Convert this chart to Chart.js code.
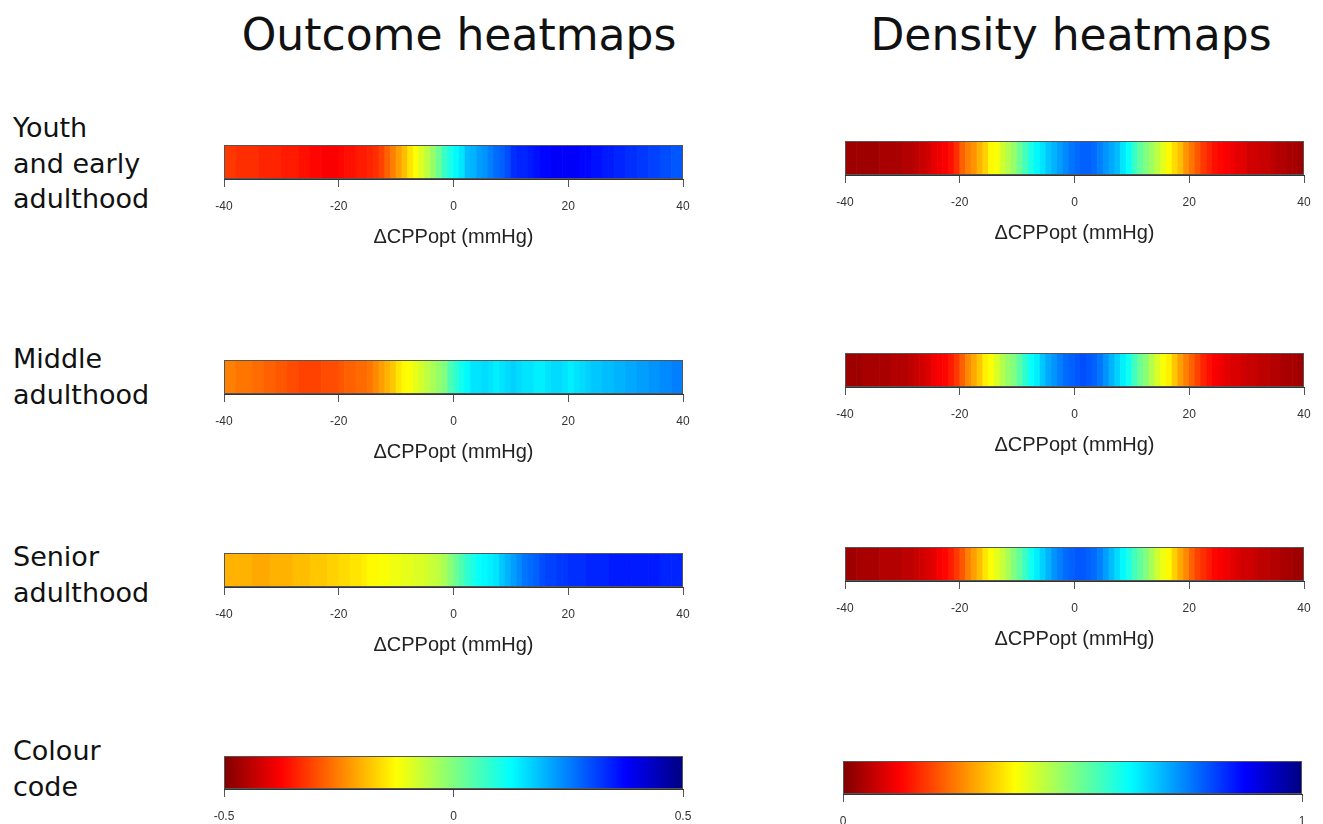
<!DOCTYPE html>
<html>
<head>
<meta charset="utf-8">
<title>Outcome and density heatmaps</title>
<script src="https://cdn.jsdelivr.net/npm/chart.js@4.4.1/dist/chart.umd.min.js"></script>
<style>
  body { margin: 0; width: 1323px; height: 824px; overflow: hidden; background: #fff; position: relative;
         font-family: 'DejaVu Sans', Verdana, sans-serif; color: #111; }
  .head { position: absolute; top: 13px; font-size: 44px; line-height: 44px; white-space: nowrap; transform: translateX(-50%); }
  .row-label { position: absolute; left: 13px; font-size: 27px; line-height: 35.5px; white-space: nowrap; }
  canvas { position: absolute; }
</style>
</head>
<body>
<div class="head" style="left:459px">Outcome heatmaps</div>
<div class="head" style="left:1071px">Density heatmaps</div>

<div class="row-label" style="top:110px">Youth<br>and early<br>adulthood</div>
<div class="row-label" style="top:341px">Middle<br>adulthood</div>
<div class="row-label" style="top:539px">Senior<br>adulthood</div>
<div class="row-label" style="top:733px">Colour<br>code</div>

<canvas id="outYouth"></canvas>
<canvas id="outMiddle"></canvas>
<canvas id="outSenior"></canvas>
<canvas id="outCode"></canvas>
<canvas id="denYouth"></canvas>
<canvas id="denMiddle"></canvas>
<canvas id="denSenior"></canvas>
<canvas id="denCode"></canvas>

<script>
// bin centres, 1 mmHg wide
const mmHg = [
  -39.5, -38.5, -37.5, -36.5, -35.5, -34.5, -33.5, -32.5, -31.5, -30.5,
  -29.5, -28.5, -27.5, -26.5, -25.5, -24.5, -23.5, -22.5, -21.5, -20.5,
  -19.5, -18.5, -17.5, -16.5, -15.5, -14.5, -13.5, -12.5, -11.5, -10.5,
  -9.5, -8.5, -7.5, -6.5, -5.5, -4.5, -3.5, -2.5, -1.5, -0.5,
  0.5, 1.5, 2.5, 3.5, 4.5, 5.5, 6.5, 7.5, 8.5, 9.5,
  10.5, 11.5, 12.5, 13.5, 14.5, 15.5, 16.5, 17.5, 18.5, 19.5,
  20.5, 21.5, 22.5, 23.5, 24.5, 25.5, 26.5, 27.5, 28.5, 29.5,
  30.5, 31.5, 32.5, 33.5, 34.5, 35.5, 36.5, 37.5, 38.5, 39.5
];
const mmHgTicks = [-40, -20, 0, 20, 40];

// outcome heatmaps (colour code -0.5 .. 0.5)
const outcomeYouth = [
  -0.32, -0.32, -0.33, -0.33, -0.33, -0.33, -0.34, -0.34, -0.34, -0.34,
  -0.35, -0.35, -0.35, -0.36, -0.36, -0.37, -0.37, -0.38, -0.38, -0.38,
  -0.37, -0.36, -0.36, -0.35, -0.35, -0.34, -0.33, -0.31, -0.28, -0.25,
  -0.22, -0.19, -0.15, -0.12, -0.09, -0.06, -0.02, 0.02, 0.07, 0.10,
  0.13, 0.15, 0.19, 0.20, 0.22, 0.23, 0.25, 0.27, 0.28, 0.30,
  0.33, 0.34, 0.34, 0.35, 0.36, 0.37, 0.37, 0.38, 0.38, 0.38,
  0.38, 0.38, 0.37, 0.37, 0.36, 0.36, 0.35, 0.35, 0.34, 0.34,
  0.33, 0.33, 0.32, 0.32, 0.31, 0.31, 0.30, 0.30, 0.29, 0.29
];
const outcomeMiddle = [
  -0.25, -0.25, -0.26, -0.26, -0.26, -0.27, -0.27, -0.28, -0.28, -0.29,
  -0.29, -0.30, -0.30, -0.31, -0.31, -0.31, -0.31, -0.30, -0.30, -0.30,
  -0.29, -0.28, -0.28, -0.27, -0.27, -0.26, -0.24, -0.22, -0.20, -0.18,
  -0.15, -0.13, -0.12, -0.10, -0.08, -0.06, -0.04, -0.02, 0.00, 0.05,
  0.08, 0.11, 0.13, 0.15, 0.15, 0.16, 0.15, 0.14, 0.15, 0.16,
  0.17, 0.16, 0.15, 0.15, 0.14, 0.14, 0.15, 0.16, 0.16, 0.15,
  0.14, 0.15, 0.16, 0.17, 0.18, 0.18, 0.19, 0.19, 0.20, 0.20,
  0.21, 0.21, 0.22, 0.22, 0.23, 0.23, 0.24, 0.24, 0.25, 0.25
];
const outcomeSenior = [
  -0.20, -0.20, -0.20, -0.20, -0.20, -0.21, -0.21, -0.21, -0.20, -0.20,
  -0.20, -0.20, -0.19, -0.19, -0.19, -0.18, -0.18, -0.18, -0.17, -0.17,
  -0.16, -0.16, -0.15, -0.15, -0.14, -0.13, -0.13, -0.12, -0.12, -0.11,
  -0.11, -0.10, -0.10, -0.09, -0.09, -0.08, -0.07, -0.06, -0.04, -0.01,
  0.02, 0.05, 0.08, 0.10, 0.12, 0.13, 0.14, 0.15, 0.18, 0.20,
  0.22, 0.24, 0.26, 0.27, 0.28, 0.30, 0.31, 0.31, 0.32, 0.32,
  0.33, 0.33, 0.33, 0.34, 0.34, 0.34, 0.34, 0.35, 0.35, 0.35,
  0.35, 0.35, 0.35, 0.35, 0.35, 0.35, 0.34, 0.34, 0.34, 0.34
];

// density heatmaps (colour code 0 .. 1)
const densityYouth = [
  0.03, 0.03, 0.03, 0.03, 0.03, 0.03, 0.04, 0.04, 0.04, 0.04,
  0.05, 0.05, 0.06, 0.07, 0.08, 0.10, 0.11, 0.12, 0.14, 0.17,
  0.22, 0.25, 0.27, 0.30, 0.33, 0.37, 0.38, 0.42, 0.45, 0.48,
  0.52, 0.56, 0.60, 0.63, 0.65, 0.68, 0.70, 0.72, 0.74, 0.76,
  0.77, 0.78, 0.78, 0.77, 0.75, 0.73, 0.71, 0.69, 0.65, 0.62,
  0.57, 0.53, 0.50, 0.47, 0.44, 0.40, 0.37, 0.34, 0.31, 0.27,
  0.24, 0.21, 0.18, 0.16, 0.14, 0.13, 0.12, 0.11, 0.10, 0.10,
  0.08, 0.08, 0.07, 0.07, 0.06, 0.05, 0.05, 0.04, 0.04, 0.03
];
const densityMiddle = [
  0.03, 0.03, 0.03, 0.04, 0.04, 0.04, 0.04, 0.04, 0.05, 0.05,
  0.05, 0.06, 0.07, 0.08, 0.09, 0.11, 0.12, 0.13, 0.15, 0.18,
  0.22, 0.26, 0.29, 0.32, 0.36, 0.38, 0.41, 0.45, 0.48, 0.50,
  0.54, 0.58, 0.62, 0.64, 0.68, 0.71, 0.73, 0.75, 0.77, 0.78,
  0.79, 0.80, 0.79, 0.78, 0.76, 0.73, 0.70, 0.67, 0.64, 0.61,
  0.56, 0.52, 0.49, 0.45, 0.41, 0.38, 0.36, 0.32, 0.28, 0.25,
  0.22, 0.19, 0.16, 0.14, 0.12, 0.11, 0.10, 0.09, 0.09, 0.08,
  0.07, 0.07, 0.06, 0.06, 0.05, 0.05, 0.04, 0.04, 0.04, 0.03
];
const densitySenior = [
  0.03, 0.03, 0.04, 0.04, 0.04, 0.04, 0.05, 0.05, 0.05, 0.05,
  0.06, 0.06, 0.07, 0.08, 0.09, 0.10, 0.12, 0.13, 0.15, 0.18,
  0.21, 0.25, 0.28, 0.31, 0.35, 0.38, 0.40, 0.43, 0.46, 0.50,
  0.53, 0.57, 0.61, 0.64, 0.67, 0.70, 0.73, 0.75, 0.77, 0.78,
  0.79, 0.79, 0.78, 0.77, 0.75, 0.72, 0.69, 0.66, 0.63, 0.60,
  0.56, 0.53, 0.50, 0.46, 0.42, 0.39, 0.37, 0.33, 0.29, 0.26,
  0.22, 0.19, 0.17, 0.15, 0.13, 0.12, 0.11, 0.10, 0.09, 0.08,
  0.08, 0.07, 0.06, 0.06, 0.05, 0.05, 0.04, 0.04, 0.03, 0.03
];

// colour code bars
const outcomeCode = [-0.5, 0.5];
const outcomeCodeTicks = [-0.5, 0, 0.5];
const densityCode = [0, 1];
const densityCodeTicks = [0, 1];

const axisTitle = 'ΔCPPopt (mmHg)';

Chart.defaults.font.family = "'Liberation Sans', Arial, sans-serif";
Chart.defaults.color = '#333';

// reversed jet: 0 -> dark red, 1 -> dark blue
function jetRev(s) {
  const t = 1 - Math.min(1, Math.max(0, s));
  const c = v => Math.round(255 * Math.min(1, Math.max(0, v)));
  const r = c(1.5 - Math.abs(4 * t - 3));
  const g = c(1.5 - Math.abs(4 * t - 2));
  const b = c(1.5 - Math.abs(4 * t - 1));
  return `rgb(${r},${g},${b})`;
}

// thin box round the plot area
const framePlugin = {
  id: 'frame',
  afterDatasetsDraw(chart) {
    const { ctx, chartArea: a } = chart;
    ctx.save();
    ctx.strokeStyle = '#555';
    ctx.lineWidth = 1;
    ctx.strokeRect(a.left + 0.5, a.top + 0.5, a.width - 1, a.height - 1);
    ctx.restore();
  }
};

function xAxis(min, max, tickVals, title, axisH) {
  return {
    type: 'linear', min: min, max: max, offset: false,
    afterBuildTicks: s => { s.ticks = tickVals.map(v => ({ value: v })); },
    afterFit: s => { s.height = axisH; },
    grid: { offset: false, drawOnChartArea: false, drawTicks: true, tickLength: 8, color: '#555' },
    border: { display: true, color: '#333' },
    ticks: { padding: 12, color: '#333', font: { size: 12 }, maxRotation: 0, autoSkip: false },
    title: { display: !!title, text: title || '', color: '#222', font: { size: 20 }, padding: 0 }
  };
}

const PAD = 30, STRIP_W = 459;

function place(canvas, left, top, h) {
  canvas.width = STRIP_W + 2 * PAD;
  canvas.height = h;
  canvas.style.left = (left - PAD) + 'px';
  canvas.style.top = (top - 2) + 'px';
}

// one heat strip: bars over the mmHg bins, coloured by value
function heatStrip(id, left, top, values, toUnit) {
  const canvas = document.getElementById(id);
  place(canvas, left, top, 2 + 34 + 70 + 2);
  new Chart(canvas, {
    type: 'bar',
    data: {
      datasets: [{
        data: mmHg.map(x => ({ x: x, y: 1 })),
        backgroundColor: values.map(v => jetRev(toUnit(v))),
        borderWidth: 0,
        barPercentage: 1,
        categoryPercentage: 1
      }]
    },
    options: {
      responsive: false, animation: false, events: [],
      layout: { padding: { left: PAD, right: PAD, top: 2, bottom: 2 } },
      plugins: { legend: { display: false }, tooltip: { enabled: false } },
      scales: {
        x: xAxis(-40, 40, mmHgTicks, axisTitle, 70),
        y: { min: 0, max: 1, display: false }
      }
    },
    plugins: [framePlugin]
  });
}

// colour code strip: one floating bar with the colour ramp
function codeStrip(id, left, top, range, tickVals) {
  const canvas = document.getElementById(id);
  place(canvas, left, top, 2 + 33 + 40);
  new Chart(canvas, {
    type: 'bar',
    data: {
      labels: ['code'],
      datasets: [{
        data: [range],
        backgroundColor: ctx => {
          const a = ctx.chart.chartArea;
          if (!a) return '#888';
          const g = ctx.chart.ctx.createLinearGradient(a.left, 0, a.right, 0);
          [0, 0.125, 0.375, 0.625, 0.875, 1].forEach(s => g.addColorStop(s, jetRev(s)));
          return g;
        },
        borderWidth: 0,
        barPercentage: 1,
        categoryPercentage: 1
      }]
    },
    options: {
      indexAxis: 'y',
      responsive: false, animation: false, events: [],
      layout: { padding: { left: PAD, right: PAD, top: 2, bottom: 0 } },
      plugins: { legend: { display: false }, tooltip: { enabled: false } },
      scales: {
        x: xAxis(range[0], range[1], tickVals, null, 40),
        y: { display: false }
      }
    },
    plugins: [framePlugin]
  });
}

const outUnit = v => v + 0.5;
const denUnit = v => v;

heatStrip('outYouth', 224, 145, outcomeYouth, outUnit);
heatStrip('outMiddle', 224, 360, outcomeMiddle, outUnit);
heatStrip('outSenior', 224, 553, outcomeSenior, outUnit);
codeStrip('outCode', 224, 756, outcomeCode, outcomeCodeTicks);

heatStrip('denYouth', 845, 141, densityYouth, denUnit);
heatStrip('denMiddle', 845, 353, densityMiddle, denUnit);
heatStrip('denSenior', 845, 547, densitySenior, denUnit);
codeStrip('denCode', 843, 761, densityCode, densityCodeTicks);
</script>
</body>
</html>
